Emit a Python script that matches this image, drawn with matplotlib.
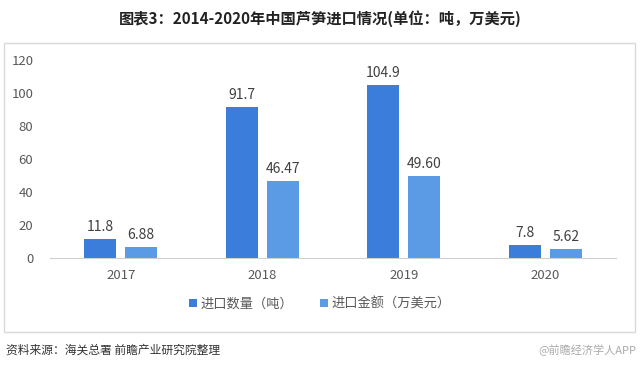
import matplotlib
matplotlib.use("Agg")
import matplotlib.pyplot as plt
from matplotlib.patches import Rectangle
import numpy as np

plt.rcParams['font.family'] = ['Noto Sans CJK SC', 'DejaVu Sans']

years = ["2017", "2018", "2019", "2020"]
qty = [11.8, 91.7, 104.9, 7.8]
qty_labels = ["11.8", "91.7", "104.9", "7.8"]
amt = [6.88, 46.47, 49.60, 5.62]
amt_labels = ["6.88", "46.47", "49.60", "5.62"]
series_names = ["进口数量（吨）", "进口金额（万美元）"]
yticks = [0, 20, 40, 60, 80, 100, 120]

c1 = "#3a7ddb"
c2 = "#5b9be6"

fig = plt.figure(figsize=(6.4, 3.7), dpi=100)
fig.patch.set_facecolor("white")

# outer frame
fig.patches.append(Rectangle((4/640, 1-332/370), 631/640, 289/370,
                             transform=fig.transFigure, fill=False,
                             edgecolor="#d9d9d9", linewidth=1.0))

ax = fig.add_axes([50/640, 1-258/370, 566/640, 198/370])
x = np.arange(len(years))
w = 0.226
off = 0.145
b1 = ax.bar(x - off, qty, w, color=c1, label=series_names[0])
b2 = ax.bar(x + off, amt, w, color=c2, label=series_names[1])

for xi, v, s in zip(x, qty, qty_labels):
    ax.text(xi - off, v + 3, s, ha="center", va="bottom", fontsize=10, color="#404040")
for xi, v, s in zip(x, amt, amt_labels):
    ax.text(xi + off, v + 3, s, ha="center", va="bottom", fontsize=10, color="#404040")

ax.set_xlim(-0.5, len(years) - 0.5)
ax.set_ylim(0, 120)
ax.set_yticks(yticks)
ax.set_yticklabels([str(t) for t in yticks])
ax.set_xticks(x)
ax.set_xticklabels(years)
for s in ["top", "right", "left"]:
    ax.spines[s].set_visible(False)
ax.spines["bottom"].set_color("#d0d0d0")
ax.tick_params(axis="both", length=0, labelsize=9.5, colors="#595959")
ax.tick_params(axis="x", pad=8)
ax.tick_params(axis="y", pad=12)

leg = fig.legend(handles=[b1, b2], loc="center", bbox_to_anchor=(0.5, 1-304/370),
                 ncol=2, frameon=False, fontsize=9.5, handlelength=0.6, handleheight=0.6,
                 handletextpad=0.3, columnspacing=2.0)
for t in leg.get_texts():
    t.set_color("#595959")

fig.text(0.5, 1-19/370, "图表3：2014-2020年中国芦笋进口情况(单位：吨，万美元)",
         ha="center", va="center", fontsize=11, fontweight="bold", color="#222222")
fig.text(6/640, 1-350/370, "资料来源：海关总署 前瞻产业研究院整理",
         ha="left", va="center", fontsize=8.5, color="#333333")
fig.text(636/640, 1-350/370, "@前瞻经济学人APP",
         ha="right", va="center", fontsize=8, color="#aaaaaa")

fig.savefig("out.png", dpi=100)
